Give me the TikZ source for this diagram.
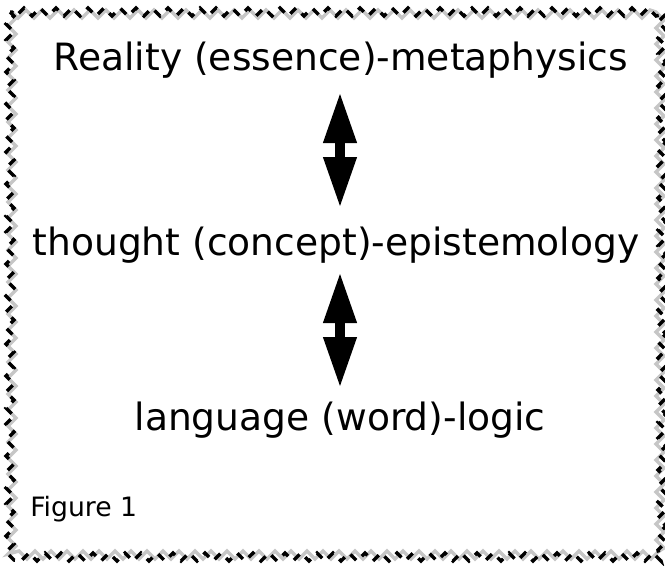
\documentclass[tikz,border=0pt]{standalone}
\usepackage{fontspec}
\setmainfont{DejaVu Sans}
\usetikzlibrary{arrows.meta,positioning,decorations.pathmorphing}

\begin{document}
\begin{tikzpicture}[
	x=0.75pt, y=-0.75pt,
	term/.style={inner sep=0pt, anchor=base, font=\fontsize{28.2}{34}\selectfont},
	caption/.style={inner sep=0pt, anchor=base west, font=\fontsize{20}{24}\selectfont},
	dbl/.style={line width=7.5pt, {Triangle[length=38.25pt,width=23.25pt]}-{Triangle[length=38.25pt,width=23.25pt]}},
	frame/.style={decorate, decoration={zigzag, segment length=12pt, amplitude=3pt}, line width=2.6pt}
]
\useasboundingbox (0,0) rectangle (665,565);

% --- Levels ---
\node[term] (reality) at (341,70) {Reality (essence)-metaphysics};
\node[term] (thought) at (336,255) {thought (concept)-epistemology};
\node[term] (language) at (340,430) {language (word)-logic};
\node[caption] (fig) at (30,516) {Figure 1};

% --- Arrows ---
\draw[dbl, shorten <=16.5pt, shorten >=35.25pt] (reality.base -| language.base) -- (thought.base -| language.base);
\draw[dbl, shorten <=12.75pt, shorten >=31.5pt] (thought.base -| language.base) -- (language.base);

% --- Border ---
\draw[frame, gray!45] (12,14) rectangle (660,555);
\draw[frame, black, dash pattern=on 6pt off 6pt] (10,12) rectangle (662,557);

\end{tikzpicture}
\end{document}
